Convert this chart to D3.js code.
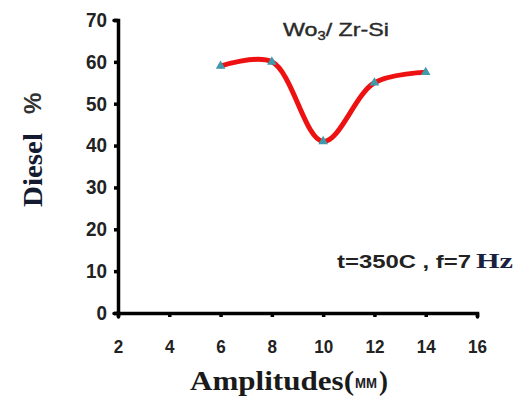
<!DOCTYPE html>
<html>
<head>
<meta charset="utf-8">
<script src="https://cdn.jsdelivr.net/npm/d3@7"></script>
<style>
  body { margin: 0; background: #fff; }
  svg { display: block; }
  .tick text { font-family: 'Liberation Sans', Arial, sans-serif; font-weight: bold; font-size: 18px; fill: #222; }
</style>
</head>
<body>
<svg id="chart" width="517" height="397"></svg>
<script>
// amplitude (mm) vs diesel yield (%)
const amplitudes = [6, 8, 10, 12, 14]
const diesel = [59, 60, 41, 55, 57.5]
const xTicks = [2, 4, 6, 8, 10, 12, 14, 16]
const yTicks = [0, 10, 20, 30, 40, 50, 60, 70]

const svg = d3.select('#chart')
const margin = { left: 118, top: 20, right: 40, bottom: 84 }
const width = 477 - margin.left
const height = 313 - margin.top

const x = d3.scaleLinear().domain([2, 16]).range([margin.left, margin.left + width])
const y = d3.scaleLinear().domain([0, 70]).range([margin.top + height, margin.top])

const points = amplitudes.map((a, i) => ({ a, v: diesel[i] }))

// axes
const xAxis = svg.append('g')
  .attr('transform', `translate(0,${y(0)})`)
  .call(d3.axisBottom(x).tickValues(xTicks).tickSize(4).tickPadding(23).tickFormat(d3.format('d')))
const yAxis = svg.append('g')
  .attr('transform', `translate(${x(2)},0)`)
  .call(d3.axisLeft(y).tickValues(yTicks).tickSize(4).tickPadding(7).tickFormat(d3.format('d')))

for (const g of [xAxis, yAxis]) {
  g.select('.domain').attr('stroke', '#000').attr('stroke-width', 3.5).attr('stroke-linecap', 'round')
  g.selectAll('.tick line').attr('stroke', '#000').attr('stroke-width', 3.5)
}
// narrower digits
xAxis.selectAll('.tick text').attr('y', 27).attr('dy', '0.71em')
  .attr('textLength', d => String(d).length * 9.5).attr('lengthAdjust', 'spacingAndGlyphs')
yAxis.selectAll('.tick text')
  .attr('textLength', d => String(d).length * 10.5).attr('lengthAdjust', 'spacingAndGlyphs')
  .style('font-size', '20px')

// smoothed series line
const line = d3.line()
  .x(d => x(d.a))
  .y(d => y(d.v))
  .curve(d3.curveCatmullRom.alpha(0.5))

svg.append('path')
  .datum(points)
  .attr('d', line)
  .attr('fill', 'none')
  .attr('stroke', '#ee1111')
  .attr('stroke-width', 5)
  .attr('stroke-linecap', 'round')

svg.selectAll('.marker')
  .data(points)
  .enter()
  .append('path')
  .attr('class', 'marker')
  .attr('d', d3.symbol(d3.symbolTriangle, 40))
  .attr('transform', d => `translate(${x(d.a)},${y(d.v)})`)
  .attr('fill', '#3f9bab')

// series name
const title = svg.append('text')
  .attr('x', 283)
  .attr('y', 36)
  .attr('font-family', "'Liberation Sans', Arial, sans-serif")
  .attr('font-size', 19)
  .attr('fill', '#2a2a2a')
  .attr('stroke', '#2a2a2a')
  .attr('stroke-width', 0.4)
title.append('tspan').text('Wo')
title.append('tspan').attr('font-size', 12).attr('dy', 4).text('3')
title.append('tspan').attr('dy', -4).text('/ Zr-Si')
title.attr('textLength', 106).attr('lengthAdjust', 'spacingAndGlyphs')

// conditions
svg.append('text')
  .attr('x', 337)
  .attr('y', 268)
  .attr('font-family', "'Liberation Sans', Arial, sans-serif")
  .attr('font-size', 18)
  .attr('font-weight', 'bold')
  .attr('fill', '#222')
  .attr('textLength', 134)
  .attr('lengthAdjust', 'spacingAndGlyphs')
  .text('t=350C , f=7')
svg.append('text')
  .attr('x', 476)
  .attr('y', 268)
  .attr('font-family', "'Liberation Serif', 'Times New Roman', serif")
  .attr('font-size', 21)
  .attr('font-weight', 'bold')
  .attr('fill', '#1a2040')
  .attr('textLength', 37)
  .attr('lengthAdjust', 'spacingAndGlyphs')
  .text('Hz')

// axis titles
svg.append('text')
  .attr('x', 190)
  .attr('y', 390)
  .attr('font-family', "'Liberation Serif', 'Times New Roman', serif")
  .attr('font-weight', 'bold')
  .attr('font-size', 27)
  .attr('fill', '#1a1a1a')
  .attr('textLength', 164)
  .attr('lengthAdjust', 'spacingAndGlyphs')
  .text('Amplitudes(')
svg.append('text')
  .attr('x', 355)
  .attr('y', 388)
  .attr('font-family', "'Liberation Sans', Arial, sans-serif")
  .attr('font-weight', 'bold')
  .attr('font-size', 15)
  .attr('fill', '#222')
  .attr('textLength', 22)
  .attr('lengthAdjust', 'spacingAndGlyphs')
  .text('MM')
svg.append('text')
  .attr('x', 379)
  .attr('y', 390)
  .attr('font-family', "'Liberation Serif', 'Times New Roman', serif")
  .attr('font-weight', 'bold')
  .attr('font-size', 27)
  .attr('fill', '#1a1a1a')
  .text(')')

svg.append('text')
  .attr('transform', 'translate(42,207) rotate(-90)')
  .attr('font-family', "'Liberation Serif', 'Times New Roman', serif")
  .attr('font-weight', 'bold')
  .attr('font-size', 27)
  .attr('fill', '#141a30')
  .attr('textLength', 74)
  .attr('lengthAdjust', 'spacingAndGlyphs')
  .text('Diesel')

svg.append('text')
  .attr('transform', 'translate(41,114) rotate(-90)')
  .attr('font-family', "'Liberation Sans', Arial, sans-serif")
  .attr('font-weight', 'bold')
  .attr('font-size', 24)
  .attr('fill', '#333')
  .text('%')
</script>
</body>
</html>
